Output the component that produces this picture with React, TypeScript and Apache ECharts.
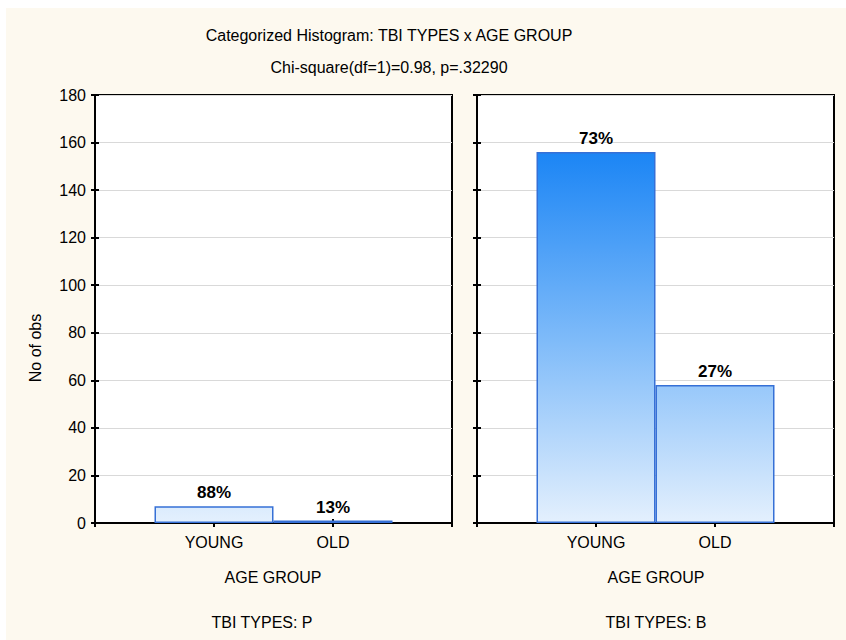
import React, { useEffect, useRef } from "react";
import * as echarts from "echarts";

const categories = ["YOUNG", "OLD"];
const panelNames = ["TBI TYPES: P", "TBI TYPES: B"];
const countsP = [7, 1];
const countsB = [156, 58];
const yMin = 0;
const yMax = 180;
const yStep = 20;
const titleLine1 = "Categorized Histogram: TBI TYPES x AGE GROUP";
const titleLine2 = "Chi-square(df=1)=0.98, p=.32290";
const yAxisTitle = "No of obs";
const xAxisTitle = "AGE GROUP";

const FONT = "Liberation Sans, Arial, sans-serif";

export default function App() {
  const ref = useRef<HTMLDivElement>(null);
  useEffect(() => {
    if (!ref.current) return;
    const chart = echarts.init(ref.current, undefined, { renderer: "svg" });

    const grids = [
      { left: 95, top: 95, width: 357, height: 428 },
      { left: 477, top: 95, width: 357, height: 428 },
    ];
    const panelsData = [countsP, countsB];

    const barGradient = new echarts.graphic.LinearGradient(
      0, 152, 0, 523,
      [
        { offset: 0, color: "#1b85f5" },
        { offset: 0.5, color: "#7dbaf9" },
        { offset: 1, color: "#e4f0fd" },
      ],
      true
    );

    const xAxes: any[] = [];
    const yAxes: any[] = [];
    const series: any[] = [];

    grids.forEach((g, gi) => {
      // bottom x axis
      xAxes.push({
        type: "value",
        gridIndex: gi,
        min: 0,
        max: categories.length + 1,
        interval: 1,
        position: "bottom",
        axisLine: { show: true, lineStyle: { color: "#000", width: 2 } },
        axisTick: { show: true, inside: true, length: 4, lineStyle: { color: "#000", width: 2 } },
        axisLabel: {
          show: true,
          margin: 11,
          color: "#000",
          fontFamily: FONT,
          fontSize: 16,
          formatter: (v: number) => categories[v - 1] ?? "",
        },
        splitLine: { show: false },
      });
      // top x axis (ticks only)
      xAxes.push({
        type: "value",
        gridIndex: gi,
        min: 0,
        max: categories.length + 1,
        interval: 1,
        position: "top",
        axisLine: { show: true, lineStyle: { color: "#000", width: 2 } },
        axisTick: { show: true, inside: true, length: 4, lineStyle: { color: "#000", width: 2 } },
        axisLabel: { show: false },
        splitLine: { show: false },
      });
      // left y axis
      yAxes.push({
        type: "value",
        gridIndex: gi,
        min: yMin,
        max: yMax,
        interval: yStep,
        position: "left",
        axisLine: { show: true, lineStyle: { color: "#000", width: 2 } },
        axisTick: { show: true, inside: true, length: 4, lineStyle: { color: "#000", width: 2 } },
        axisLabel: {
          show: gi === 0,
          margin: 9,
          color: "#000",
          fontFamily: FONT,
          fontSize: 16,
        },
        splitLine: { show: true, lineStyle: { color: "#d9d9d9", width: 1 } },
      });
      // right y axis (ticks only)
      yAxes.push({
        type: "value",
        gridIndex: gi,
        min: yMin,
        max: yMax,
        interval: yStep,
        position: "right",
        axisLine: { show: true, lineStyle: { color: "#000", width: 2 } },
        axisTick: { show: true, inside: true, length: 4, lineStyle: { color: "#000", width: 2 } },
        axisLabel: { show: false },
        splitLine: { show: false },
      });

      const vals = panelsData[gi];
      const total = vals.reduce((a, b) => a + b, 0);
      series.push({
        type: "bar",
        xAxisIndex: gi * 2,
        yAxisIndex: gi * 2,
        barWidth: 119,
        data: vals.map((v, i) => [i + 1, v]),
        itemStyle: {
          color: barGradient,
          borderColor: "#3670d6",
          borderWidth: 1.5,
        },
        label: {
          show: true,
          position: "top",
          distance: 5,
          color: "#000",
          fontFamily: FONT,
          fontWeight: "bold",
          fontSize: 17,
          formatter: (p: any) => Math.round((p.value[1] / total) * 100) + "%",
        },
        z: 1,
      });
    });

    const textStyle = (s: string, x: number, y: number, extra: any = {}) => ({
      type: "text",
      x,
      y,
      style: {
        text: s,
        fill: "#000",
        font: `16px ${FONT}`,
        align: "center",
        verticalAlign: "middle",
        ...extra,
      },
      z: 100,
    });

    chart.setOption({
      animation: false,
      backgroundColor: "#FDF9EF",
      grid: grids.map((g) => ({
        ...g,
        show: true,
        backgroundColor: "#ffffff",
        borderColor: "#000",
        borderWidth: 2,
        containLabel: false,
      })),
      xAxis: xAxes,
      yAxis: yAxes,
      series,
      graphic: [
        { type: "rect", shape: { x: 0, y: 0, width: 846, height: 8 }, style: { fill: "#ffffff" }, z: 100 },
        { type: "rect", shape: { x: 0, y: 0, width: 6, height: 640 }, style: { fill: "#ffffff" }, z: 100 },
        textStyle(titleLine1, 389, 35),
        textStyle(titleLine2, 389, 67),
        {
          type: "text",
          x: 35,
          y: 348,
          rotation: Math.PI / 2,
          style: {
            text: yAxisTitle,
            fill: "#000",
            font: `16px ${FONT}`,
            align: "center",
            verticalAlign: "middle",
          },
          z: 100,
        },
        textStyle(xAxisTitle, 273, 577),
        textStyle(xAxisTitle, 656, 577),
        textStyle(panelNames[0], 262, 622),
        textStyle(panelNames[1], 656, 622),
      ],
    });

    return () => chart.dispose();
  }, []);

  return (
    <div
      ref={ref}
      style={{ position: "absolute", left: 0, top: 0, width: 846, height: 640 }}
    />
  );
}
